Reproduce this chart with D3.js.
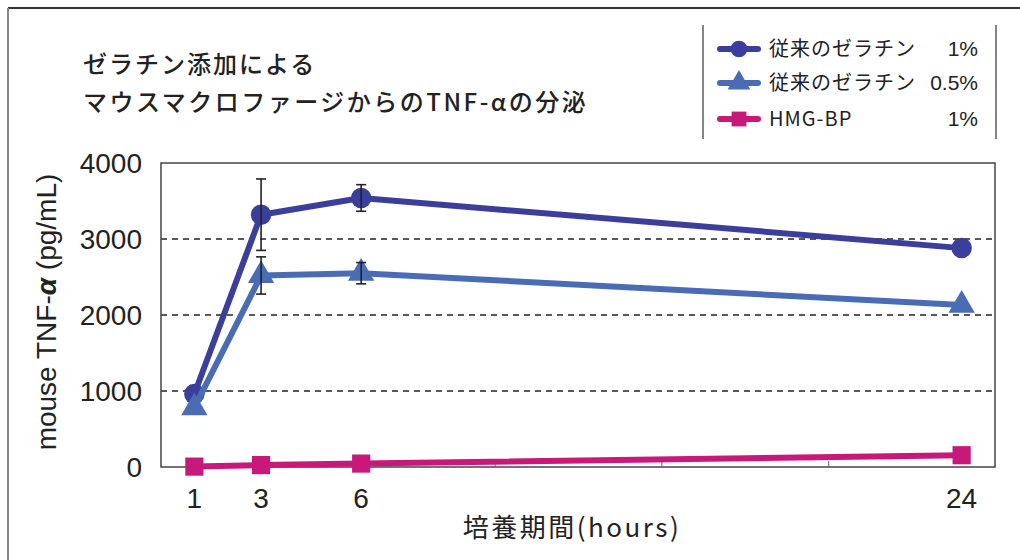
<!DOCTYPE html>
<html><head><meta charset="utf-8">
<script src="https://cdn.jsdelivr.net/npm/d3@7"></script>
<style>
html,body{margin:0;padding:0;background:#fff;}
svg{display:block;}
</style></head>
<body>
<svg id="chart" width="1020" height="560"></svg>
<script>
// ---- data ----
const hours = [1, 3, 6, 24];
const xTickLabels = ["1", "3", "6", "24"];
const yTicks = [0, 1000, 2000, 3000, 4000];
const gridValues = [1000, 2000, 3000];
const seriesNames = ["従来のゼラチン", "従来のゼラチン", "HMG-BP"];
const seriesConc = ["1%", "0.5%", "1%"];
const gelatin1 = [960, 3320, 3540, 2880];
const gelatin1Err = [0, 470, 175, 0];
const gelatin05 = [780, 2520, 2550, 2130];
const gelatin05Err = [0, 245, 140, 0];
const hmgbp = [5, 25, 45, 155];
const hmgbpErr = [0, 0, 0, 0];

const colors = ["#3b3f9b", "#4a6cb4", "#c8197b"];
const symbols = [d3.symbolCircle, d3.symbolTriangle, d3.symbolSquare];
const series = [
  {values: gelatin1, err: gelatin1Err},
  {values: gelatin05, err: gelatin05Err},
  {values: hmgbp, err: hmgbpErr}
];

const svg = d3.select("#chart");
const jp = "'Noto Sans CJK JP', 'Noto Sans', sans-serif";
const lat = "'Liberation Sans', Arial, sans-serif";

// outer frame
svg.append("line").attr("x1", 8).attr("x2", 1020).attr("y1", 8).attr("y2", 8).attr("stroke", "#333").attr("stroke-width", 2);
svg.append("line").attr("x1", 8).attr("x2", 8).attr("y1", 8).attr("y2", 560).attr("stroke", "#888").attr("stroke-width", 2);

const x = d3.scaleLinear().domain([0, 25]).range([161, 995]);
const y = d3.scaleLinear().domain([0, 4000]).range([467, 163]);

// gridlines
svg.append("g").selectAll("line").data(gridValues).join("line")
  .attr("x1", x(0)).attr("x2", x(25))
  .attr("y1", d => y(d)).attr("y2", d => y(d))
  .attr("stroke", "#222").attr("stroke-width", 1.3).attr("stroke-dasharray", "6,5");

// plot frame
svg.append("rect").attr("x", x(0)).attr("y", y(4000))
  .attr("width", x(25) - x(0)).attr("height", y(0) - y(4000))
  .attr("fill", "none").attr("stroke", "#444").attr("stroke-width", 1.5);

// x minor ticks (inward)
const xAxis = d3.axisTop(x).tickValues([5, 10, 15, 20]).tickSize(6).tickFormat("");
svg.append("g").attr("transform", `translate(0,${y(0)})`).call(xAxis)
  .call(g => g.select(".domain").remove())
  .call(g => g.selectAll("line").attr("stroke", "#666"));

// y tick labels
svg.append("g").selectAll("text").data(yTicks).join("text")
  .attr("x", 142).attr("y", d => y(d) + 10)
  .attr("text-anchor", "end")
  .attr("font-family", lat).attr("font-size", 28).attr("fill", "#222")
  .text(d => d);

// x tick labels
svg.append("g").selectAll("text").data(hours).join("text")
  .attr("x", d => x(d)).attr("y", 508)
  .attr("text-anchor", "middle")
  .attr("font-family", lat).attr("font-size", 28).attr("fill", "#222")
  .text((d, i) => xTickLabels[i]);

// axis titles
svg.append("text").attr("x", 572).attr("y", 537)
  .attr("text-anchor", "middle").attr("font-family", jp).attr("font-size", 26)
  .attr("letter-spacing", 2.5).attr("fill", "#222")
  .text("培養期間(hours)");

const yt = svg.append("text").attr("transform", "translate(56,312) rotate(-90)")
  .attr("text-anchor", "middle").attr("font-family", lat).attr("font-size", 28).attr("fill", "#222");
yt.append("tspan").text("mouse TNF-");
yt.append("tspan").attr("font-style", "italic").attr("font-weight", "bold").text("α");
yt.append("tspan").text(" (pg/mL)");

// title
svg.append("text").attr("x", 83).attr("y", 73)
  .attr("font-family", jp).attr("font-size", 24).attr("font-weight", 500).attr("letter-spacing", 2).attr("fill", "#222")
  .text("ゼラチン添加による");
svg.append("text").attr("x", 83).attr("y", 111)
  .attr("font-family", jp).attr("font-size", 24).attr("font-weight", 500).attr("letter-spacing", 2.5).attr("fill", "#222")
  .text("マウスマクロファージからのTNF-αの分泌");

// series
const line = d3.line().x((d, i) => x(hours[i])).y(d => y(d));
const symSizes = [330, 300, 330];
series.forEach((s, k) => {
  const g = svg.append("g");
  g.append("path").datum(s.values).attr("d", line)
    .attr("fill", "none").attr("stroke", colors[k]).attr("stroke-width", 6).attr("stroke-linejoin", "round");
  g.selectAll("path.m").data(s.values).join("path").attr("class", "m")
    .attr("transform", (d, i) => `translate(${x(hours[i])},${y(d)})`)
    .attr("d", d3.symbol().type(symbols[k]).size(symSizes[k]))
    .attr("fill", colors[k]);
});

// error bars
series.forEach((s) => {
  const g = svg.append("g").attr("stroke", "#222").attr("stroke-width", 1.6);
  s.values.forEach((v, i) => {
    if (!s.err[i]) return;
    const cx = x(hours[i]);
    g.append("line").attr("x1", cx).attr("x2", cx).attr("y1", y(v - s.err[i])).attr("y2", y(v + s.err[i]));
    [v - s.err[i], v + s.err[i]].forEach(e => {
      g.append("line").attr("x1", cx - 5).attr("x2", cx + 5).attr("y1", y(e)).attr("y2", y(e));
    });
  });
});

// legend
const lg = svg.append("g");
lg.append("line").attr("x1", 703).attr("x2", 703).attr("y1", 25).attr("y2", 139).attr("stroke", "#333").attr("stroke-width", 1.2);
lg.append("line").attr("x1", 996).attr("x2", 996).attr("y1", 25).attr("y2", 139).attr("stroke", "#333").attr("stroke-width", 1.2);
const rows = [49, 83, 119];
seriesNames.forEach((name, k) => {
  const ry = rows[k];
  lg.append("line").attr("x1", 720).attr("x2", 758).attr("y1", ry).attr("y2", ry)
    .attr("stroke", colors[k]).attr("stroke-width", 6).attr("stroke-linecap", "round");
  lg.append("path").attr("transform", `translate(739,${ry})`)
    .attr("d", d3.symbol().type(symbols[k]).size(220)).attr("fill", colors[k]);
  lg.append("text").attr("x", 769).attr("y", ry + 7)
    .attr("font-family", jp).attr("font-size", 20).attr("letter-spacing", 1).attr("fill", "#222")
    .text(name);
  lg.append("text").attr("x", 978).attr("y", ry + 7).attr("text-anchor", "end")
    .attr("font-family", lat).attr("font-size", 21).attr("fill", "#222")
    .text(seriesConc[k]);
});
</script>
</body></html>
